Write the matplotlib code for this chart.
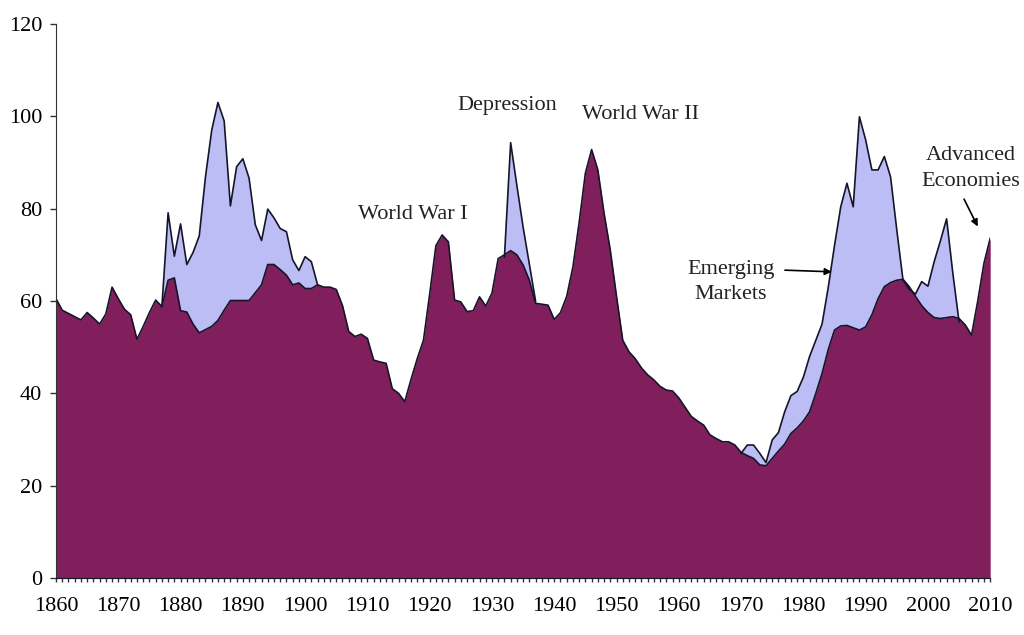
import matplotlib.pyplot as plt
import numpy as np

# annual values, 1860-2010
years = np.arange(1860, 2011)

advanced = [
    60.5, 58.0, 57.3, 56.6, 55.9, 57.5, 56.3, 55.0, 57.2, 63.0,   # 1860s
    60.5, 58.2, 57.0, 51.7, 54.5, 57.5, 60.2, 58.8, 64.5, 65.0,   # 1870s
    57.9, 57.6, 55.0, 53.1, 53.8, 54.5, 55.8, 58.0, 60.1, 60.1,   # 1880s
    60.1, 60.1, 61.8, 63.5, 67.9, 67.9, 66.8, 65.6, 63.5, 63.9,   # 1890s
    62.7, 62.7, 63.5, 63.0, 63.0, 62.5, 59.0, 53.4, 52.3, 52.8,   # 1900s
    51.9, 47.2, 46.8, 46.5, 41.0, 40.0, 38.2, 43.0, 47.5, 51.5,   # 1910s
    61.5, 72.0, 74.3, 72.8, 60.2, 59.8, 57.7, 57.9, 60.9, 58.9,   # 1920s
    61.7, 69.2, 70.0, 70.9, 70.0, 67.8, 64.5, 59.5, 59.3, 59.1,   # 1930s
    56.0, 57.5, 61.0, 67.4, 77.0, 87.7, 92.8, 88.4, 79.0, 71.0,   # 1940s
    61.0, 51.5, 49.0, 47.5, 45.5, 44.0, 42.9, 41.5, 40.7, 40.5,   # 1950s
    39.0, 37.0, 35.0, 34.0, 33.1, 31.0, 30.2, 29.5, 29.5, 28.8,   # 1960s
    27.2, 26.5, 25.9, 24.5, 24.3, 25.9, 27.5, 29.0, 31.3, 32.5,   # 1970s
    34.0, 36.0, 40.0, 44.3, 49.5, 53.7, 54.6, 54.7, 54.2, 53.7,   # 1980s
    54.4, 57.0, 60.5, 63.1, 64.0, 64.5, 64.7, 63.1, 61.0, 59.0,   # 1990s
    57.5, 56.4, 56.2, 56.4, 56.6, 56.2, 54.8, 52.6, 60.0, 68.2,   # 2000s
    73.6,
]

nan = np.nan
emerging = [
    nan, nan, nan, nan, nan, nan, nan, nan, nan, nan,             # 1860s
    nan, nan, nan, nan, nan, nan, nan, 58.8, 79.1, 69.7,          # 1870s
    76.7, 67.9, 70.5, 74.1, 86.9, 97.0, 103.0, 99.0, 80.6, 89.1,  # 1880s
    90.8, 86.6, 76.5, 73.1, 79.9, 78.0, 75.7, 75.0, 68.9, 66.6,   # 1890s
    69.6, 68.5, 63.5, nan, nan, nan, nan, nan, nan, nan,          # 1900s
    nan, nan, nan, nan, nan, nan, nan, nan, nan, nan,             # 1910s
    nan, nan, nan, nan, nan, nan, nan, nan, nan, nan,             # 1920s
    nan, nan, 69.5, 94.3, 85.0, 76.0, 68.0, 60.0, nan, nan,       # 1930s
    nan, nan, nan, nan, nan, nan, nan, nan, nan, nan,             # 1940s
    nan, nan, nan, nan, nan, nan, nan, nan, nan, nan,             # 1950s
    nan, nan, nan, nan, nan, nan, nan, nan, nan, nan,             # 1960s
    27.0, 28.8, 28.8, 27.0, 25.0, 29.9, 31.5, 36.0, 39.5, 40.4,   # 1970s
    43.5, 48.0, 51.5, 55.0, 63.0, 72.0, 80.4, 85.5, 80.4, 99.9,   # 1980s
    94.9, 88.4, 88.4, 91.3, 86.9, 75.4, 64.5, 62.5, 61.5, 64.2,   # 1990s
    63.2, 68.5, 73.0, 77.8, 66.0, 55.5, nan, nan, nan, nan,       # 2000s
    nan,
]

yticks = [0, 20, 40, 60, 80, 100, 120]
xticks = list(range(1860, 2011, 10))

dark = '#801f5c'
light = '#bdbdf5'
edge = '#15152a'

plt.rcParams['font.family'] = ['Liberation Serif', 'DejaVu Serif']

fig = plt.figure(figsize=(10.24, 6.35), dpi=100)
ax = fig.add_axes([0.0547, 0.0898, 0.9123, 0.8724])

em = np.array(emerging, dtype=float)
adv = np.array(advanced, dtype=float)

ax.fill_between(years, 0, em, where=~np.isnan(em), color=light, lw=0)
ax.plot(years, em, color=edge, lw=1.2)
ax.fill_between(years, 0, adv, color=dark, lw=0)
ax.plot(years, adv, color=edge, lw=1.2)
ax.vlines(years[-1], 0, adv[-1], color=dark, lw=1)

ax.set_xlim(1860, 2010)
ax.set_ylim(0, 120)
ax.set_yticks(yticks)
ax.set_xticks(xticks)
ax.set_xticks(years, minor=True)
ax.tick_params(axis='x', which='both', length=3, width=1, pad=11, labelsize=16, color='#333333')
ax.tick_params(axis='y', length=4, width=1, pad=6, labelsize=16, color='#333333')

for s in ['top', 'right']:
    ax.spines[s].set_visible(False)
ax.spines['left'].set_color('#333333')
ax.spines['bottom'].set_color(edge)

txt = dict(fontsize=16, ha='center', va='center', color='#222222')
ax.text(1917.3, 78.8, 'World War I', **txt)
ax.text(1932.4, 102.4, 'Depression', **txt)
ax.text(1953.9, 100.3, 'World War II', **txt)
ax.text(1968.4, 64.1, 'Emerging\nMarkets', linespacing=1.45, **txt)
ax.text(2006.9, 88.7, 'Advanced\nEconomies', linespacing=1.45, clip_on=False, **txt)

ax.annotate('', xy=(1985.0, 66.3), xytext=(1976.6, 66.7),
            arrowprops=dict(arrowstyle='-|>', color='black', lw=1.2, mutation_scale=10))
ax.annotate('', xy=(2008.2, 75.6), xytext=(2005.6, 82.6),
            arrowprops=dict(arrowstyle='-|>', color='black', lw=1.2, mutation_scale=10))

plt.savefig('out.png', dpi=100)
